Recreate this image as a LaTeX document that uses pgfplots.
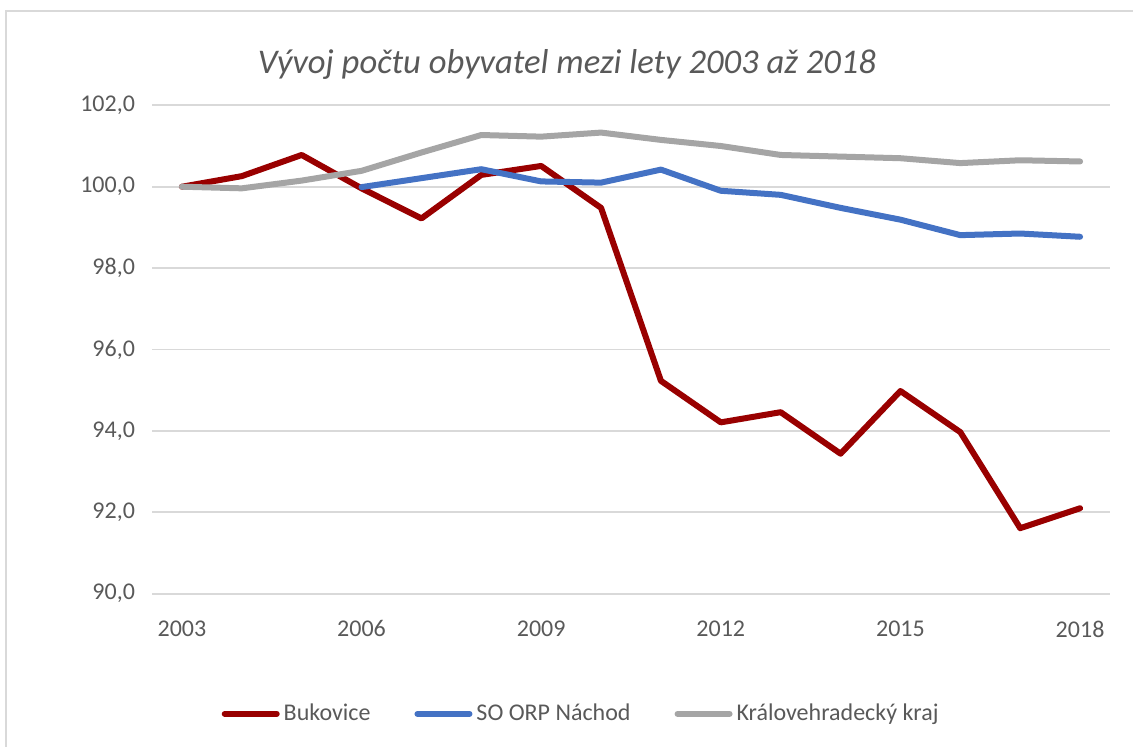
\documentclass[border=0pt]{standalone}
\usepackage{fontspec}
\setmainfont{Carlito}
\usepackage{pgfplots}
\pgfplotsset{compat=1.18}
\definecolor{txt}{HTML}{595959}
\definecolor{grd}{HTML}{D9D9D9}
\definecolor{cRed}{HTML}{990000}
\definecolor{cBlue}{HTML}{4472C4}
\definecolor{cGray}{HTML}{A5A5A5}
\begin{document}
\begin{tikzpicture}
\useasboundingbox (-76pt,-76.15pt) rectangle (490.5pt,296.85pt);
\draw[grd, line width=0.75pt] (-73pt,-80pt) -- (-73pt,291.35pt) -- (500pt,291.35pt);
\node[txt, font=\fontsize{17.3}{20}\selectfont\itshape] at (207.5pt,264.8pt) {Vývoj počtu obyvatel mezi lety 2003 až 2018};
\begin{axis}[
  at={(0pt,0pt)}, anchor=south west,
  scale only axis, width=479pt, height=244.2pt,
  xmin=2002.5, xmax=2018.5, ymin=90, ymax=102,
  xtick={2003,2006,2009,2012,2015,2018},
  xticklabels={2003,2006,2009,2012,2015,2018},
  ytick={90,92,...,102},
  axis line style={draw=none},
  tick style={draw=none},
  ymajorgrids, grid style={grd, line width=0.9pt},
  ticklabel style={font=\fontsize{12}{14}\selectfont, text=txt},
  yticklabel style={/pgf/number format/fixed, /pgf/number format/fixed zerofill, /pgf/number format/precision=1, /pgf/number format/use comma, /pgf/number format/assume math mode=true, /tikz/xshift=-5pt},
  xticklabel style={yshift=-10pt},
  legend columns=3,
  legend style={at={(0.449,-0.246)}, anchor=center, draw=none, fill=none,
    font=\fontsize{12}{14}\selectfont, text=txt,
    /tikz/every even column/.append style={column sep=20pt}},
  legend cell align=left,
  legend image code/.code={\draw[#1, line cap=round] (0pt,0pt) -- (26pt,0pt);},
  every axis plot/.append style={line width=3pt, line join=round, line cap=round, mark=none},
]
\addplot[cRed] coordinates {
(2003,100.00) (2004,100.26) (2005,100.78) (2006,99.96) (2007,99.22) (2008,100.29)
(2009,100.51) (2010,99.48) (2011,95.23) (2012,94.21) (2013,94.46) (2014,93.44)
(2015,94.98) (2016,93.97) (2017,91.61) (2018,92.10)};
\addlegendentry{Bukovice}
\addplot[cBlue] coordinates {
(2006,99.99) (2007,100.21) (2008,100.43) (2009,100.13) (2010,100.10) (2011,100.42)
(2012,99.90) (2013,99.80) (2014,99.48) (2015,99.19) (2016,98.81) (2017,98.85) (2018,98.77)};
\addlegendentry{SO ORP Náchod}
\addplot[cGray] coordinates {
(2003,100.00) (2004,99.96) (2005,100.15) (2006,100.39) (2007,100.84) (2008,101.27)
(2009,101.23) (2010,101.33) (2011,101.15) (2012,101.00) (2013,100.78) (2014,100.74)
(2015,100.70) (2016,100.58) (2017,100.65) (2018,100.62)};
\addlegendentry{Královehradecký kraj}
\end{axis}
\end{tikzpicture}
\end{document}
